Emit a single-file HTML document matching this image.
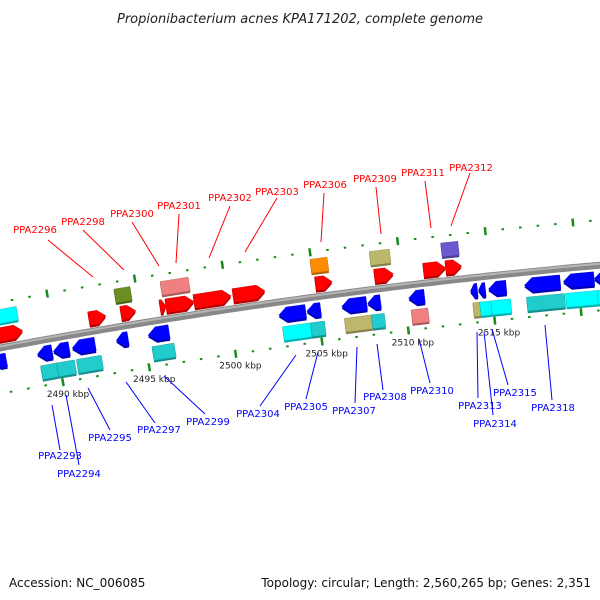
<!DOCTYPE html>
<html><head><meta charset="utf-8"><style>
body{margin:0;background:#fff}
svg{display:block;font-family:"DejaVu Sans","Liberation Sans",sans-serif}
</style></head><body>
<svg id="c" width="600" height="600" viewBox="0 0 600 600">
<text x="300" y="23" text-anchor="middle" font-size="13" font-style="italic" fill="#222">Propionibacterium acnes KPA171202, complete genome</text>
<text x="9" y="587" font-size="12" fill="#111">Accession: NC_006085</text>
<text x="591" y="587" text-anchor="end" font-size="12" fill="#111">Topology: circular; Length: 2,560,265 bp; Genes: 2,351</text>
<g id="g"></g>
</svg>
<script>
// tick range (kbp)
const tickStart = 2486, tickEnd = 2522;
const tickLabels = ["2490 kbp","2495 kbp","2500 kbp","2505 kbp","2510 kbp","2515 kbp"];
const tickLabelKbp = [2490,2495,2500,2505,2510,2515];
// forward genes (kbp)
const fwdStart = [2486.84,2492.07,2493.91,2496.15,2496.49,2498.10,2500.34,2505.06,2508.45,2511.26,2512.53];
const fwdEnd   = [2488.28,2493.05,2494.77,2496.49,2498.10,2500.23,2502.18,2506.03,2509.54,2512.53,2513.45];
// forward COG boxes
const fcogStart = [2486.84,2493.74,2496.38,2504.94,2508.33,2512.41];
const fcogEnd   = [2488.16,2494.66,2497.99,2505.92,2509.48,2513.39];
const fcogColor = ["#00ffff","#6b8e23","#f08080","#ff8c00","#bdb76b","#6a5acd"];
// reverse genes
const revStart = [2486.26,2488.85,2489.77,2490.86,2493.39,2495.23,2502.76,2504.37,2506.38,2507.87,2510.23,2513.79,2514.25,2514.83,2516.90,2519.14,2520.92];
const revEnd   = [2487.07,2489.71,2490.69,2492.18,2494.08,2496.44,2504.31,2505.17,2507.82,2508.62,2511.15,2514.20,2514.66,2515.86,2518.97,2520.92,2521.90];
// reverse COG boxes
const rcogStart = [2488.91,2489.83,2490.98,2495.34,2502.87,2504.48,2506.44,2507.99,2510.29,2513.85,2514.25,2514.89,2516.95,2519.20,2521.03];
const rcogEnd   = [2489.83,2490.86,2492.41,2496.61,2504.48,2505.29,2507.99,2508.74,2511.26,2514.25,2514.89,2516.03,2519.14,2521.03,2521.90];
const rcogColor = ["#20cccc","#20cccc","#20cccc","#20cccc","#00ffff","#20cccc","#bdb76b","#20cccc","#f08080","#bdb76b","#00ffff","#00ffff","#20cccc","#00ffff","#00ffff"];
// labels
const fLabels = ["PPA2296","PPA2298","PPA2300","PPA2301","PPA2302","PPA2303","PPA2306","PPA2309","PPA2311","PPA2312"];
const fLab = [[35,233,48,240,93,277],[83,225,83,230,124,270],[132,217,132,222,159,266],[179,209,179,214,176,263],[230,201,230,206,209,258],[277,195,277,198,245,252],[325,188,324,193,321,242],[375,182,376,187,381,234],[423,176,425,181,431,228],[471,171,470,173,451,226]];
const rLabels = ["PPA2293","PPA2294","PPA2295","PPA2297","PPA2299","PPA2304","PPA2305","PPA2307","PPA2308","PPA2310","PPA2313","PPA2314","PPA2315","PPA2318"];
const rLab = [[60,459,52,405,60,450],[79,477,66,395,79,465],[110,441,88,388,110,430],[159,433,126,382,155,423],[208,425,164,376,205,414],[258,417,296,355,260,406],[306,410,318,352,306,399],[354,414,357,347,355,403],[385,400,377,344,383,390],[432,394,419,339,430,383],[480,409,477,332,478,398],[495,427,484,332,493,415],[515,396,492,329,508,385],[553,411,545,325,552,400]];

const NS="http://www.w3.org/2000/svg", G=document.getElementById('g');
function yb(x){return 348-0.188*x+8.33e-5*x*x;}
function dy(x){return -0.188+2*8.33e-5*x;}
function X(k){return 55+(k-2490)*17.4;}
function P(k,d){const x=X(k),s=dy(x),m=Math.hypot(1,s);return [x+d*s/m, yb(x)-d/m];}
function mk(t,a){const e=document.createElementNS(NS,t);for(const q in a)e.setAttribute(q,a[q]);G.appendChild(e);return e;}
function poly(pts){return pts.map(p=>p[0].toFixed(1)+","+p[1].toFixed(1)).join(" ");}
function shade(c){const n=parseInt(c.slice(1),16);const f=v=>Math.round(v*0.7);return "rgb("+f(n>>16)+","+f((n>>8)&255)+","+f(n&255)+")";}

// backbone
let bp="";for(let x=-5;x<=605;x+=5)bp+=(x<0?"M":"L")+x+","+yb(x).toFixed(1);
let e=mk('path',{d:bp,stroke:"#888",'stroke-width':7,fill:"none"});


let bp2="";for(let x=-5;x<=605;x+=5)bp2+=(x<0?"M":"L")+x+","+(yb(x)-1.5).toFixed(1);
mk('path',{d:bp2,stroke:"#b5b5b5",'stroke-width':2,fill:"none"});

// tick tracks
for(let k=tickStart;k<=tickEnd;k++){
  const maj=k%5===0;
  [45,-45].forEach(d=>{
    const a=P(k,d+(maj?4:1)),b=P(k,d-(maj?4:1));
    const t=mk('line',{x1:a[0],y1:a[1],x2:b[0],y2:b[1],stroke:"#1a8a1a",'stroke-width':2.5});
    
    
  });
}
tickLabelKbp.forEach((k,i)=>{
  const p=P(k,-57);
  const t=mk('text',{x:p[0]+3,y:p[1]+3,'font-size':9,'text-anchor':'middle',fill:"#222"});
  t.textContent=tickLabels[i];
  
  
});

function gene(s,en,d,dir,col,name){
  const h=7,L=Math.min(8,(en-s)*17.4*0.6);
  let pts;
  if(dir>0){const ke=en-L/17.4;pts=[P(s,d+h),P(ke,d+h),P(en,d),P(ke,d-h),P(s,d-h)];}
  else if(dir<0){const ks=s+L/17.4;pts=[P(en,d+h),P(ks,d+h),P(s,d),P(ks,d-h),P(en,d-h)];}
  else pts=[P(s,d+h),P(en,d+h),P(en,d-h),P(s,d-h)];
  const sh=pts.map(p=>[p[0],p[1]+2]);
  mk('polygon',{points:poly(sh),fill:shade(col)});
  const g=mk('polygon',{points:poly(pts),fill:col,stroke:shade(col),'stroke-width':0.4});
  
  
}
fwdStart.forEach((s,i)=>gene(s,fwdEnd[i],13,1,"#ff0000",'forward-gene'));
fcogStart.forEach((s,i)=>gene(s,fcogEnd[i],31,0,fcogColor[i],'forward-cog-box'));
revStart.forEach((s,i)=>gene(s,revEnd[i],-13,-1,"#0000ff",'reverse-gene'));
rcogStart.forEach((s,i)=>gene(s,rcogEnd[i],-32,0,rcogColor[i],'reverse-cog-box'));

function labels(names,arr,col,nm){
  names.forEach((n,i)=>{
    const a=arr[i];
    const l=mk('line',{x1:a[2],y1:a[3],x2:a[4],y2:a[5],stroke:col,'stroke-width':1});
    
    
    const t=mk('text',{x:a[0],y:a[1],'font-size':10,'text-anchor':'middle',fill:col});
    t.textContent=n;
    
    
  });
}
labels(fLabels,fLab,"#ff0000",'forward-gene-label');
labels(rLabels,rLab,"#0000ff",'reverse-gene-label');
</script>
</body></html>
